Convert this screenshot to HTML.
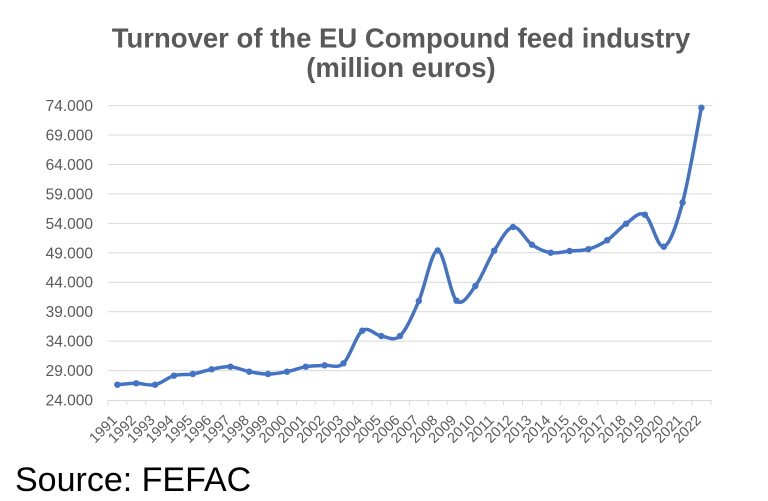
<!DOCTYPE html>
<html><head><meta charset="utf-8"><style>
html,body{margin:0;padding:0;background:#fff;}
svg{display:block;}
</style></head><body>
<svg width="768" height="501" viewBox="0 0 768 501" xmlns="http://www.w3.org/2000/svg">
<rect width="768" height="501" fill="#fff"/>
<g font-family="Liberation Sans, Arial, sans-serif" font-weight="bold" font-size="27.5" fill="#595959" text-anchor="middle">
<text x="401" y="47.5">Turnover of the EU Compound feed industry</text>
<text x="401" y="77">(million euros)</text>
</g>
<g stroke="#d9d9d9" stroke-width="1">
<line x1="108" x2="712" y1="105.6" y2="105.6"/>
<line x1="108" x2="712" y1="135.0" y2="135.0"/>
<line x1="108" x2="712" y1="164.5" y2="164.5"/>
<line x1="108" x2="712" y1="193.9" y2="193.9"/>
<line x1="108" x2="712" y1="223.4" y2="223.4"/>
<line x1="108" x2="712" y1="252.8" y2="252.8"/>
<line x1="108" x2="712" y1="282.2" y2="282.2"/>
<line x1="108" x2="712" y1="311.7" y2="311.7"/>
<line x1="108" x2="712" y1="341.1" y2="341.1"/>
<line x1="108" x2="712" y1="370.6" y2="370.6"/>
<line x1="108" x2="712" y1="400.5" y2="400.5"/>
</g>
<g stroke="#d9d9d9" stroke-width="1">
<line x1="108" x2="108" y1="400" y2="405"/><line x1="126.8" x2="126.8" y1="400" y2="405"/><line x1="145.7" x2="145.7" y1="400" y2="405"/><line x1="164.5" x2="164.5" y1="400" y2="405"/><line x1="183.4" x2="183.4" y1="400" y2="405"/><line x1="202.2" x2="202.2" y1="400" y2="405"/><line x1="221" x2="221" y1="400" y2="405"/><line x1="239.9" x2="239.9" y1="400" y2="405"/><line x1="258.7" x2="258.7" y1="400" y2="405"/><line x1="277.6" x2="277.6" y1="400" y2="405"/><line x1="296.4" x2="296.4" y1="400" y2="405"/><line x1="315.2" x2="315.2" y1="400" y2="405"/><line x1="334.1" x2="334.1" y1="400" y2="405"/><line x1="352.9" x2="352.9" y1="400" y2="405"/><line x1="371.8" x2="371.8" y1="400" y2="405"/><line x1="390.6" x2="390.6" y1="400" y2="405"/><line x1="409.4" x2="409.4" y1="400" y2="405"/><line x1="428.3" x2="428.3" y1="400" y2="405"/><line x1="447.1" x2="447.1" y1="400" y2="405"/><line x1="466" x2="466" y1="400" y2="405"/><line x1="484.8" x2="484.8" y1="400" y2="405"/><line x1="503.6" x2="503.6" y1="400" y2="405"/><line x1="522.5" x2="522.5" y1="400" y2="405"/><line x1="541.3" x2="541.3" y1="400" y2="405"/><line x1="560.2" x2="560.2" y1="400" y2="405"/><line x1="579" x2="579" y1="400" y2="405"/><line x1="597.8" x2="597.8" y1="400" y2="405"/><line x1="616.7" x2="616.7" y1="400" y2="405"/><line x1="635.5" x2="635.5" y1="400" y2="405"/><line x1="654.4" x2="654.4" y1="400" y2="405"/><line x1="673.2" x2="673.2" y1="400" y2="405"/><line x1="692" x2="692" y1="400" y2="405"/><line x1="710.9" x2="710.9" y1="400" y2="405"/>
</g>
<g font-family="Liberation Sans, Arial, sans-serif" font-size="15.5" fill="#595959" text-anchor="end">
<text x="93" y="111">74.000</text>
<text x="93" y="140.5">69.000</text>
<text x="93" y="170">64.000</text>
<text x="93" y="199.4">59.000</text>
<text x="93" y="228.9">54.000</text>
<text x="93" y="258.3">49.000</text>
<text x="93" y="287.7">44.000</text>
<text x="93" y="317.2">39.000</text>
<text x="93" y="346.6">34.000</text>
<text x="93" y="376.1">29.000</text>
<text x="93" y="405.5">24.000</text>
</g>
<g font-family="Liberation Sans, Arial, sans-serif" font-size="14.5" fill="#595959" text-anchor="end">
<text transform="translate(118,421) rotate(-45)">1991</text>
<text transform="translate(136.8,421) rotate(-45)">1992</text>
<text transform="translate(155.7,421) rotate(-45)">1993</text>
<text transform="translate(174.5,421) rotate(-45)">1994</text>
<text transform="translate(193.4,421) rotate(-45)">1995</text>
<text transform="translate(212.2,421) rotate(-45)">1996</text>
<text transform="translate(231,421) rotate(-45)">1997</text>
<text transform="translate(249.9,421) rotate(-45)">1998</text>
<text transform="translate(268.7,421) rotate(-45)">1999</text>
<text transform="translate(287.6,421) rotate(-45)">2000</text>
<text transform="translate(306.4,421) rotate(-45)">2001</text>
<text transform="translate(325.2,421) rotate(-45)">2002</text>
<text transform="translate(344.1,421) rotate(-45)">2003</text>
<text transform="translate(362.9,421) rotate(-45)">2004</text>
<text transform="translate(381.8,421) rotate(-45)">2005</text>
<text transform="translate(400.6,421) rotate(-45)">2006</text>
<text transform="translate(419.4,421) rotate(-45)">2007</text>
<text transform="translate(438.3,421) rotate(-45)">2008</text>
<text transform="translate(457.1,421) rotate(-45)">2009</text>
<text transform="translate(476,421) rotate(-45)">2010</text>
<text transform="translate(494.8,421) rotate(-45)">2011</text>
<text transform="translate(513.6,421) rotate(-45)">2012</text>
<text transform="translate(532.5,421) rotate(-45)">2013</text>
<text transform="translate(551.3,421) rotate(-45)">2014</text>
<text transform="translate(570.2,421) rotate(-45)">2015</text>
<text transform="translate(589,421) rotate(-45)">2016</text>
<text transform="translate(607.8,421) rotate(-45)">2017</text>
<text transform="translate(626.7,421) rotate(-45)">2018</text>
<text transform="translate(645.5,421) rotate(-45)">2019</text>
<text transform="translate(664.4,421) rotate(-45)">2020</text>
<text transform="translate(683.2,421) rotate(-45)">2021</text>
<text transform="translate(702,421) rotate(-45)">2022</text>
</g>
<path fill="none" stroke="#4472C4" stroke-width="3.5" stroke-linejoin="round" stroke-linecap="round" d="M117.4,384.7 C120.54,384.47 129.92,383.3 136.2,383.3 C142.48,383.3 148.82,385.97 155.1,384.7 C161.38,383.43 167.62,377.48 173.9,375.7 C180.18,373.92 186.52,375.07 192.8,374 C199.08,372.93 205.32,370.52 211.6,369.3 C217.88,368.08 224.12,366.3 230.4,366.7 C236.68,367.1 243.02,370.48 249.3,371.7 C255.58,372.92 261.82,374 268.1,374 C274.38,374 280.72,372.92 287,371.7 C293.28,370.48 299.52,367.77 305.8,366.7 C312.08,365.63 318.32,365.87 324.6,365.3 C330.88,364.73 337.22,369.07 343.5,363.3 C349.78,357.53 356.02,335.25 362.3,330.7 C368.58,326.15 374.92,335.12 381.2,336 C387.48,336.88 393.72,341.83 400,336 C406.28,330.17 412.52,315.25 418.8,301 C425.08,286.75 431.42,250.55 437.7,250.5 C443.98,250.45 450.22,294.78 456.5,300.7 C462.78,306.62 469.12,294.33 475.4,286 C481.68,277.67 487.92,260.53 494.2,250.7 C500.48,240.87 506.72,228 513,227 C519.28,226 525.62,240.42 531.9,244.7 C538.18,248.98 544.42,251.65 550.7,252.7 C556.98,253.75 563.32,251.58 569.6,251 C575.88,250.42 582.12,251 588.4,249.2 C594.68,247.4 600.92,244.45 607.2,240.2 C613.48,235.950 619.82,227.95 626.1,223.7 C632.38,219.45 638.62,210.87 644.9,214.7 C651.18,218.53 657.52,248.73 663.8,246.7 C670.08,244.67 676.32,225.67 682.6,202.5 C688.88,179.33 698.26,123.5 701.4,107.7"/>
<g fill="#4472C4">
<circle cx="117.4" cy="384.7" r="3.2"/><circle cx="136.2" cy="383.3" r="3.2"/><circle cx="155.1" cy="384.7" r="3.2"/><circle cx="173.9" cy="375.7" r="3.2"/><circle cx="192.8" cy="374" r="3.2"/><circle cx="211.6" cy="369.3" r="3.2"/><circle cx="230.4" cy="366.7" r="3.2"/><circle cx="249.3" cy="371.7" r="3.2"/><circle cx="268.1" cy="374" r="3.2"/><circle cx="287" cy="371.7" r="3.2"/><circle cx="305.8" cy="366.7" r="3.2"/><circle cx="324.6" cy="365.3" r="3.2"/><circle cx="343.5" cy="363.3" r="3.2"/><circle cx="362.3" cy="330.7" r="3.2"/><circle cx="381.2" cy="336" r="3.2"/><circle cx="400" cy="336" r="3.2"/><circle cx="418.8" cy="301" r="3.2"/><circle cx="437.7" cy="250.5" r="3.2"/><circle cx="456.5" cy="300.7" r="3.2"/><circle cx="475.4" cy="286" r="3.2"/><circle cx="494.2" cy="250.7" r="3.2"/><circle cx="513" cy="227" r="3.2"/><circle cx="531.9" cy="244.7" r="3.2"/><circle cx="550.7" cy="252.7" r="3.2"/><circle cx="569.6" cy="251" r="3.2"/><circle cx="588.4" cy="249.2" r="3.2"/><circle cx="607.2" cy="240.2" r="3.2"/><circle cx="626.1" cy="223.7" r="3.2"/><circle cx="644.9" cy="214.7" r="3.2"/><circle cx="663.8" cy="246.7" r="3.2"/><circle cx="682.6" cy="202.5" r="3.2"/><circle cx="701.4" cy="107.7" r="3.2"/>
</g>
<text x="15" y="491" font-family="Liberation Sans, Arial, sans-serif" font-size="34" fill="#000">Source: FEFAC</text>
</svg>
</body></html>
